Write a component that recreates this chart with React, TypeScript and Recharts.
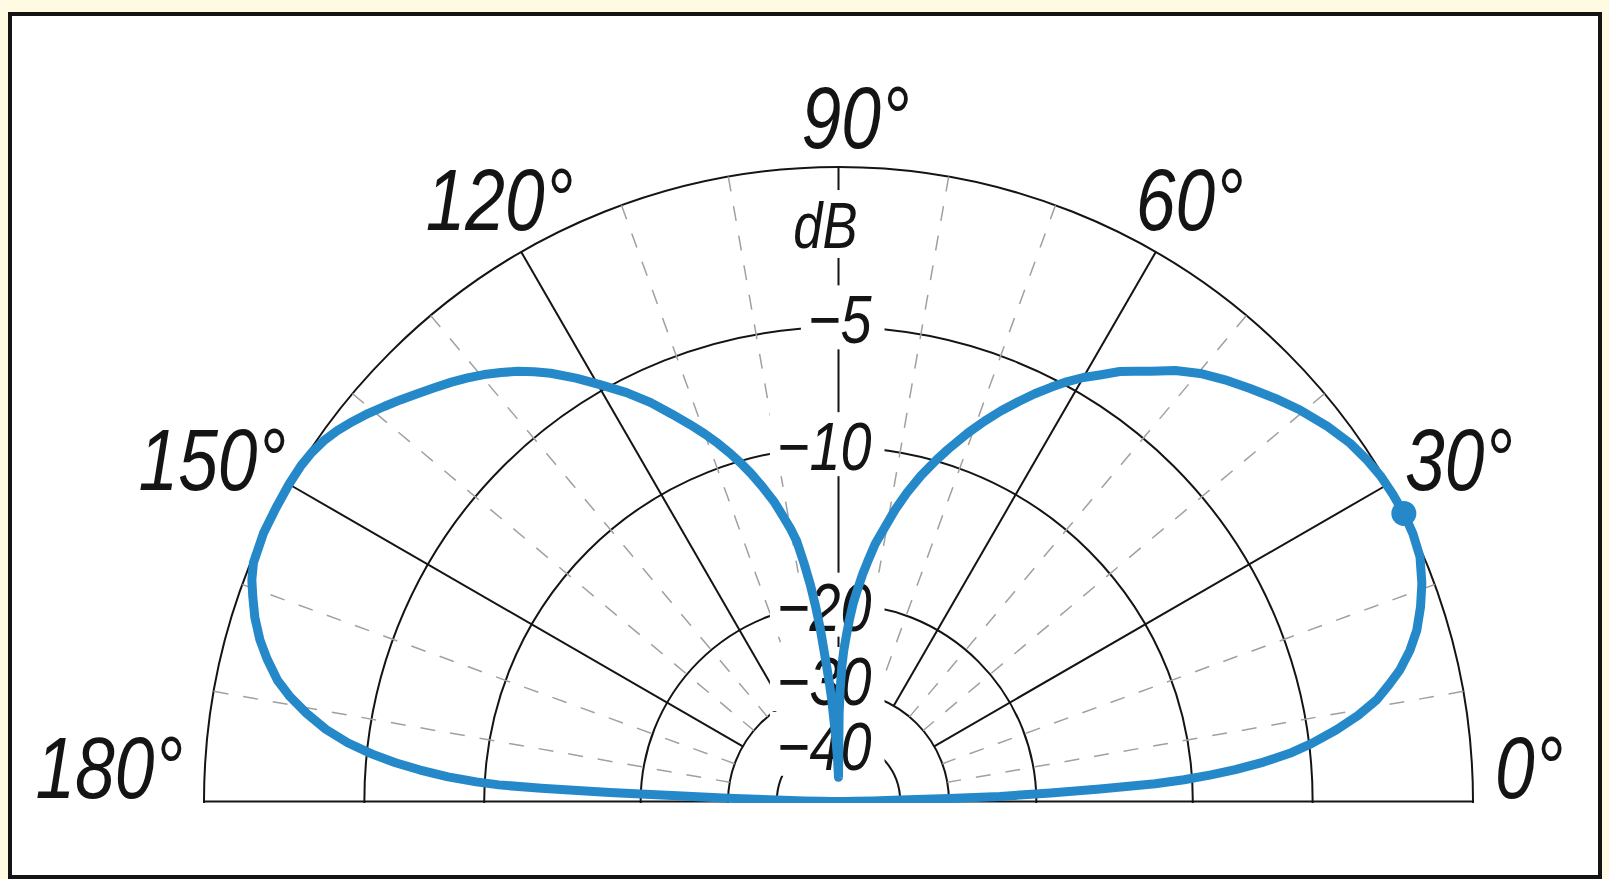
import React from 'react';
import { RadarChart, Radar, PolarGrid, PolarAngleAxis, PolarRadiusAxis } from 'recharts';

// ARRL log-periodic radius scale: every 2 dB down shrinks the radius by 0.89
const arrl = (db: number) => Math.pow(0.89, -db / 2);

// elevation angle (deg) and relative gain (dB)
const elevationDeg = [
  0, 0.5, 1, 1.4, 1.55, 1.8, 2.3, 2.75, 3.2, 3.6, 4.1, 4.6, 5.3, 6.1, 7, 8.2, 9.4, 10.7, 12, 13.2,
  14.8, 16.5, 18.5, 20.5, 22.8, 25, 27, 29, 31, 33, 35, 37.5, 40.3, 42.7, 45.1, 47.5, 49.8, 52, 54,
  55.5, 56.8, 58.5, 60, 61.4, 62.8, 64.3, 65.8, 67.4, 69, 70.6, 72.7, 74, 75.8, 77.5, 79, 80.6,
  81.9, 83.1, 84, 85, 85.8, 86.5, 87.2, 88, 88.6, 89.2, 89.6, 90,
  91.3, 92.2, 92.9, 93.8, 94.4, 95, 96, 96.7, 97.4, 98.2, 99.1, 100, 101, 102.1, 103.5, 104.9, 106.1,
  107.3, 108.6, 110, 111.5, 113.3, 115.2, 117.4, 119.7, 121.8, 123.9, 125.3, 126.7, 128.2, 129.7,
  131.2, 132.7, 134.4, 136, 137.5, 139, 140.5, 142, 143.5, 145, 146.5, 148, 150, 152.5, 155, 157.8,
  159.3, 160.7, 162.5, 164.4, 166, 167.8, 169.2, 170.6, 172, 173.2, 174.2, 175, 175.7, 176.4, 176.9,
  177.2, 177.45, 177.75, 178, 178.3, 178.6, 179, 179.5, 180,
];
const gainDb = [
  -80, -62, -50, -40, -30, -23.5, -18.8, -15.2, -11.9, -10.4, -9.1, -8.0, -6.8, -5.75, -4.9, -3.98, -3.2, -2.52, -2.05, -1.64,
  -1.22, -0.87, -0.57, -0.32, -0.1, -0.02, 0, -0.02, -0.06, -0.15, -0.27, -0.5, -0.81, -1.12, -1.45, -1.78, -2.13, -2.55, -3.03,
  -3.35, -3.62, -4.08, -4.45, -4.85, -5.3, -5.8, -6.35, -6.95, -7.6, -8.3, -9.3, -9.95, -10.9, -11.95, -13.0, -14.3,
  -15.3, -16.6, -17.6, -18.9, -20.0, -21.3, -22.8, -24.6, -26.6, -30, -34, -56,
  -46, -41, -37, -31.4, -28.8, -26.5, -22.3, -20.1, -18.3, -16.7, -15.1, -14.2, -13.4, -12.5, -11.6, -10.75, -10.1,
  -9.5, -8.9, -8.3, -7.7, -7.0, -6.25, -5.5, -4.8, -4.15, -3.55, -3.2, -2.88, -2.58, -2.3,
  -2.05, -1.82, -1.58, -1.35, -1.12, -0.9, -0.68, -0.48, -0.3, -0.16, -0.07, -0.02, 0, 0, 0, -0.07,
  -0.2, -0.38, -0.62, -0.94, -1.28, -1.72, -2.2, -2.8, -3.5, -4.3, -5.2, -6.1, -7.1, -8.3, -9.6,
  -10.7, -13.0, -17.5, -23.5, -30, -40, -50, -62, -80,
];
const PEAK_ANGLE = 27;

const angleTicks = [0, 30, 60, 90, 120, 150, 180];
const dashedAngles = [10, 20, 40, 50, 70, 80, 100, 110, 130, 140, 160, 170];
const ringDb = [0, -5, -10, -20, -30, -40];
const ringLabels = ['dB', '−5', '−10', '−20', '−30', '−40'];
const SPOKE_START_DB = -30;

const data = elevationDeg.map((angle, i) => ({ angle, gain: arrl(gainDb[i]) }));

const R = 634.5;
const CX = 838.5;
const CY = 801.5;
const SPOKE = R - R * arrl(SPOKE_START_DB);
const BLUE = '#2589c9';
const INK = '#141414';
const FONT = "'Liberation Sans', Arial, sans-serif";

// where each angle label sits relative to the outer end of its spoke
const angleLabelPos: Record<number, { anchor: 'start' | 'middle' | 'end'; dx: number; dy: number }> = {
  0: { anchor: 'start', dx: 22, dy: -3.5 },
  30: { anchor: 'start', dx: 17, dy: 6 },
  60: { anchor: 'start', dx: -20, dy: -22 },
  90: { anchor: 'middle', dx: 17, dy: -19 },
  120: { anchor: 'end', dx: 52, dy: -22 },
  150: { anchor: 'end', dx: -3, dy: 6 },
  180: { anchor: 'end', dx: -21, dy: -3.5 },
};

// baseline offset of each ring label below its ring
const ringLabelDy = [81, 16, 23, 27, 14, 30];

// condensed advance widths (em) used to squeeze the text to a narrow face
const charW: Record<string, number> = { '−': 0.479, d: 0.456, B: 0.547, '°': 0.328 };
const textWidth = (s: string, fs: number) =>
  Array.from(s).reduce((w, c) => w + (charW[c] ?? 0.456), 0) * fs;

const NarrowText = ({ children, fontSize, ...rest }: any) => (
  <text
    {...rest}
    fontSize={fontSize}
    fontStyle="italic"
    fontFamily={FONT}
    fill={INK}
    textLength={textWidth(children, fontSize)}
    lengthAdjust="spacingAndGlyphs"
  >
    {children}
  </text>
);

const AngleTick = (props: any) => {
  const { x, y, payload } = props;
  const a = Number(payload.value);
  const rad = (a * Math.PI) / 180;
  // tick point is at the inner end of the spoke; walk back out to the rim
  const ex = x + Math.cos(rad) * SPOKE;
  const ey = y - Math.sin(rad) * SPOKE;
  const p = angleLabelPos[a];
  if (!p) return null;
  return (
    <NarrowText x={ex + p.dx} y={ey + p.dy} textAnchor={p.anchor} fontSize={87}>
      {`${a}°`}
    </NarrowText>
  );
};

const RadiusTick = (props: any) => {
  const { x, y, index } = props;
  const label = ringLabels[index];
  if (label === undefined) return null;
  const unit = index === 0;
  const fs = unit ? 64 : 68;
  const w = textWidth(label, fs);
  const endX = unit ? x + 19 : x + 33;
  const base = y + ringLabelDy[index];
  return (
    <g>
      <rect x={endX - w - 7} y={base - 58} width={w + 20} height={unit ? 68 : 64} fill="#fff" />
      <NarrowText x={endX} y={base} textAnchor="end" fontSize={fs}>
        {label}
      </NarrowText>
    </g>
  );
};

const PeakDot = (props: any) => {
  const { cx, cy, index, payload } = props;
  const a = payload?.payload?.angle ?? payload?.angle;
  if (a !== PEAK_ANGLE) return <g key={`d${index}`} />;
  return <circle key={`d${index}`} cx={cx} cy={cy} r={12.5} fill={BLUE} />;
};

export default function App() {
  return (
    <div style={{ position: 'absolute', left: 0, top: 0, width: 1609, height: 879, background: '#fffbe2', overflow: 'hidden' }}>
      <div
        style={{
          position: 'absolute', left: 8, top: 12, width: 1594, height: 867,
          border: `4px solid ${INK}`, boxSizing: 'border-box', background: '#fff',
        }}
      />
      <div style={{ position: 'absolute', left: 0, top: 0, width: 1609, height: 879 }}>
        <RadarChart
          width={1609}
          height={879}
          data={data}
          cx={CX}
          cy={CY}
          startAngle={0}
          endAngle={180}
          innerRadius={0}
          outerRadius={R}
          margin={{ top: 0, right: 0, bottom: 0, left: 0 }}
        >
          <PolarGrid gridType="circle" radialLines={false} stroke={INK} strokeWidth={2} />
          {/* dashed 10° spokes, drawn as long inward tick lines */}
          <PolarAngleAxis
            angleAxisId={1}
            dataKey="angle"
            type="number"
            domain={[0, 180]}
            allowDataOverflow
            ticks={dashedAngles as any}
            orientation="inner"
            tickSize={SPOKE}
            tick={false}
            tickLine={{ stroke: '#a0a0a0', strokeWidth: 1.5, strokeDasharray: '15 15' }}
            axisLine={false}
          />
          <PolarAngleAxis
            dataKey="angle"
            type="number"
            domain={[0, 180]}
            ticks={angleTicks as any}
            tickCount={7}
            orientation="inner"
            tickSize={SPOKE}
            tick={AngleTick}
            tickLine={{ stroke: INK, strokeWidth: 2 }}
            axisLine={false}
          />
          <PolarRadiusAxis
            angle={90}
            type="number"
            domain={[0, 1]}
            ticks={ringDb.map(arrl) as any}
            tick={RadiusTick}
            axisLine={false}
          />
          <Radar
            dataKey="gain"
            stroke={BLUE}
            strokeWidth={9}
            strokeLinejoin="round"
            fill="none"
            fillOpacity={0}
            dot={PeakDot}
            isAnimationActive={false}
            zIndex={1000}
          />
        </RadarChart>
      </div>
      {/* the plot is a half-plane: blank out everything below the horizon */}
      <div style={{ position: 'absolute', left: 12, top: 803, width: 1586, height: 72, background: '#fff' }} />
    </div>
  );
}
